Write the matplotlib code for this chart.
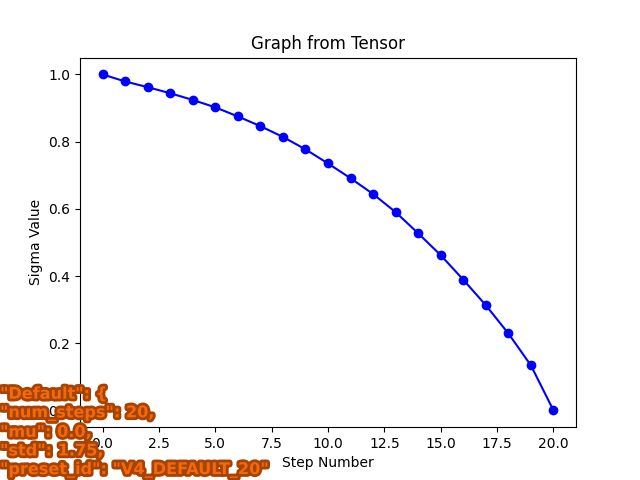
import matplotlib
matplotlib.use("Agg")
import matplotlib.pyplot as plt
import matplotlib.patheffects as pe

steps = list(range(21))
sigma = [1.0, 0.979, 0.962, 0.944, 0.924, 0.902, 0.875, 0.846, 0.814, 0.777,
         0.735, 0.691, 0.644, 0.590, 0.527, 0.462, 0.389, 0.313, 0.229, 0.134, 0.0]

overlay_lines = ['"Default": {',
                 '"num_steps": 20,',
                 '"mu": 0.0,',
                 '"std": 1.75,',
                 '"preset_id": "V4_DEFAULT_20"']

fig, ax = plt.subplots(figsize=(6.4, 4.8), dpi=100)
ax.plot(steps, sigma, "bo-")
ax.set_title("Graph from Tensor")
ax.set_xlabel("Step Number")
ax.set_ylabel("Sigma Value")

fig.text(0.0, 0.004, "\n".join(overlay_lines), ha="left", va="bottom",
         fontsize=11.6, fontweight="bold", color="#F26A0C", linespacing=1.3,
         path_effects=[pe.withStroke(linewidth=4, foreground="#A84200")])

fig.savefig("out.png")
